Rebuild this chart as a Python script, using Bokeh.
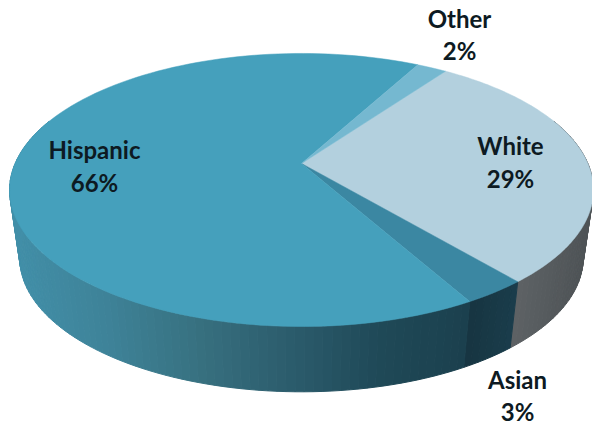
import numpy as np
from bokeh.plotting import figure
from bokeh.models import Range1d
from bokeh.core.properties import value
from bokeh.embed import file_html
from bokeh.resources import INLINE

# data, clockwise from the White slice
labels = ["White", "Asian", "Hispanic", "Other"]
values = [29, 3, 66, 2]
top_colors = ["#b3d0de", "#3b87a2", "#45a0bc", "#75b8d0"]
label_x = [510, 517, 94, 459]
label_y = [145, 379, 149, 18]
pct_y = [178, 411, 182, 50]

# wall gradient stops (screen x -> colour)
wall_x = {
    "White": [465, 515, 585],
    "Asian": [460, 520],
    "Hispanic": [10, 100, 200, 300, 380, 470],
}
wall_c = {
    "White": ["#62666a", "#5e6265", "#4f5457"],
    "Asian": ["#16333f", "#1a3d4c"],
    "Hispanic": ["#428fa8", "#3e8399", "#37707f", "#2a5a6a", "#1f4957", "#1b404e"],
}

START = 35.6          # degrees clockwise from the back of the pie
APEX_X, APEX_Y = 301.0, 163.0
R, K, C = 286.4, 131.4, 0.194   # perspective of the disc
ELL_CX, ELL_CY = 300.0, 190.0
DEPTH, SX, SY = 68.0, 0.965, 0.98


def top(a):
    a = np.radians(a)
    w = 1 + C * np.cos(a)
    return APEX_X + R * np.sin(a) / w, APEX_Y - K * np.cos(a) / w


def bottom(a):
    x, y = top(a)
    return ELL_CX + SX * (x - ELL_CX), ELL_CY + DEPTH + SY * (y - ELL_CY)


def hex2rgb(h):
    return np.array([int(h[i:i + 2], 16) for i in (1, 3, 5)], float)


def mix(name, x):
    xs = wall_x[name]
    rgb = np.array([hex2rgb(c) for c in wall_c[name]])
    return "#%02x%02x%02x" % tuple(int(round(np.interp(x, xs, rgb[:, i]))) for i in range(3))


p = figure(width=592, height=426, output_backend="svg", toolbar_location=None,
           x_range=Range1d(0, 592), y_range=Range1d(426, 0),
           min_border=0, outline_line_color=None, x_axis_location=None, y_axis_location=None)
p.xgrid.visible = False
p.ygrid.visible = False

edges = START + np.cumsum([0] + values) * 3.6

# side wall, as thin strips
wx, wy, wc = [], [], []
for name, a0, a1 in zip(labels, edges[:-1], edges[1:]):
    lo, hi = max(a0, 70), min(a1, 290)
    if hi <= lo:
        continue
    steps = max(2, int((hi - lo) / 1.5))
    ts = np.linspace(lo, hi, steps + 1)
    for t0, t1 in zip(ts[:-1], ts[1:]):
        x0, y0 = top(t0)
        x1, y1 = top(t1)
        x2, y2 = bottom(t1)
        x3, y3 = bottom(t0)
        wx.append([x0, x1, x2, x3])
        wy.append([y0, y1, y2, y3])
        wc.append(mix(name, (x0 + x1) / 2))
p.patches(wx, wy, fill_color=wc, line_color=wc, line_width=1.0)

# top face
for name, col, a0, a1 in zip(labels, top_colors, edges[:-1], edges[1:]):
    ts = np.linspace(a0, a1, 120)
    xs, ys = top(ts)
    p.patch(np.r_[APEX_X, xs], np.r_[APEX_Y, ys], fill_color=col, line_color=col, line_width=0.5)

# labels
pcts = [f"{v}%" for v in values]
for xs_, ys_, txt in ((label_x, label_y, labels), (label_x, pct_y, pcts)):
    p.text(xs_, ys_, text=txt, text_font=value("Lato"), text_font_style="bold",
           text_font_size="24px", text_align="center", text_baseline="middle", text_color="#0d1a22")

open("out.html", "w").write(file_html(p, INLINE))
